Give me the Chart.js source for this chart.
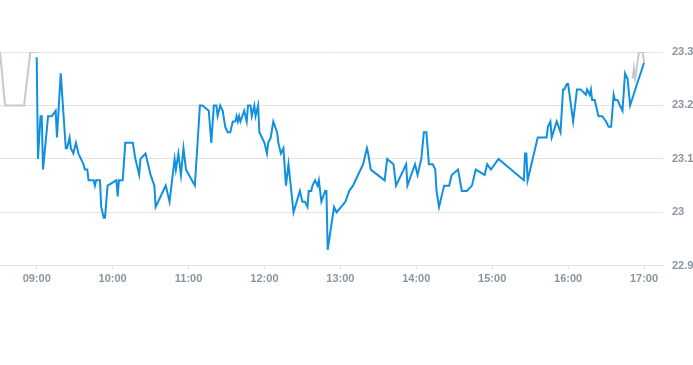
<!DOCTYPE html>
<html>
<head>
<meta charset="utf-8">
<script src="https://cdn.jsdelivr.net/npm/chart.js@4/dist/chart.umd.min.js"></script>
<style>
  body { margin: 0; background: #fff; }
  #wrap { width: 693px; height: 365px; position: relative; }
</style>
</head>
<body>
<div id="wrap"><canvas id="myLineChart"></canvas></div>
<script>
// intraday prices, session 09:00 - 17:00
const sessionTimes = ['09:00','09:01','09:03','09:04','09:05','09:09','09:12','09:15','09:16','09:19',
  '09:23','09:24','09:26','09:27','09:29','09:31','09:33','09:35','09:37','09:38',
  '09:40','09:41','09:45','09:46','09:47','09:50','09:51','09:53','09:54','09:56',
  '10:03','10:04','10:05','10:08','10:10','10:16','10:18','10:21','10:22','10:26',
  '10:30','10:33','10:34','10:42','10:45','10:49','10:50','10:52','10:54','10:56',
  '10:58','11:05','11:09','11:11','11:16','11:18','11:20','11:22','11:23','11:25',
  '11:27','11:29','11:31','11:33','11:35','11:37','11:38','11:39','11:40','11:41',
  '11:44','11:46','11:47','11:49','11:50','11:52','11:53','11:55','11:56','11:58',
  '12:00','12:02','12:03','12:05','12:07','12:10','12:11','12:13','12:15','12:17',
  '12:19','12:23','12:28','12:30','12:32','12:34','12:35','12:37','12:38','12:40',
  '12:42','12:43','12:45','12:48','12:49','12:50','12:55','12:57','13:04','13:07',
  '13:10','13:12','13:18','13:21','13:22','13:24','13:35','13:37','13:42','13:44',
  '13:52','13:53','13:59','14:01','14:04','14:06','14:08','14:10','14:13','14:15',
  '14:16','14:18','14:22','14:26','14:28','14:33','14:36','14:40','14:44','14:47',
  '14:54','14:56','14:59','15:05','15:25','15:26','15:27','15:28','15:36','15:43',
  '15:44','15:46','15:47','15:51','15:54','15:56','15:57','15:59','16:00','16:04',
  '16:07','16:10','16:14','16:15','16:17','16:18','16:19','16:21','16:24','16:27',
  '16:30','16:32','16:34','16:36','16:37','16:39','16:41','16:43','16:45','16:47',
  '16:49','17:00']
const sessionPrices = [23.29,23.10,23.18,23.18,23.08,23.18,23.18,23.19,23.14,23.26,
  23.12,23.12,23.14,23.12,23.11,23.13,23.11,23.10,23.09,23.08,
  23.08,23.06,23.06,23.05,23.06,23.06,23.01,22.99,22.99,23.05,
  23.06,23.03,23.06,23.06,23.13,23.13,23.10,23.07,23.10,23.11,
  23.07,23.05,23.01,23.05,23.02,23.10,23.08,23.11,23.07,23.12,
  23.08,23.05,23.20,23.20,23.19,23.13,23.20,23.20,23.18,23.20,
  23.19,23.16,23.15,23.15,23.17,23.17,23.18,23.17,23.18,23.17,
  23.19,23.17,23.20,23.20,23.18,23.20,23.18,23.20,23.15,23.14,
  23.13,23.11,23.13,23.14,23.17,23.15,23.13,23.11,23.12,23.05,
  23.09,23.00,23.04,23.02,23.02,23.01,23.04,23.04,23.05,23.06,
  23.05,23.06,23.02,23.04,23.04,22.93,23.01,23.00,23.02,23.04,
  23.05,23.06,23.09,23.12,23.11,23.08,23.06,23.10,23.09,23.05,
  23.09,23.05,23.09,23.07,23.10,23.15,23.15,23.09,23.09,23.08,
  23.04,23.01,23.05,23.05,23.07,23.08,23.04,23.04,23.05,23.08,
  23.07,23.09,23.08,23.10,23.06,23.11,23.11,23.06,23.14,23.14,
  23.16,23.17,23.14,23.17,23.15,23.23,23.23,23.24,23.24,23.17,
  23.23,23.23,23.22,23.23,23.22,23.23,23.21,23.21,23.18,23.18,
  23.17,23.16,23.16,23.22,23.21,23.21,23.20,23.19,23.26,23.25,
  23.20,23.28]

// pre-session ticks (grey)
const preTimes = ['08:31','08:35','08:50','08:55','09:00']
const prePrices = [23.30,23.20,23.20,23.30,23.30]
// closing auction ticks (grey)
const postTimes = ['16:51','16:52','16:53','16:56','16:59','17:00']
const postPrices = [23.25,23.27,23.25,23.30,23.30,23.28]

const xTickLabels = ['09:00','10:00','11:00','12:00','13:00','14:00','15:00','16:00','17:00']
const yTickLabels = [22.9, 23, 23.1, 23.2, 23.3]

const toMin = function(t){
    const [h,m] = t.split(':')
    return Number(h)*60 + Number(m)
}
const toLabel = function(v){
    const h = Math.floor(v/60)
    const m = v%60
    return String(h).padStart(2,'0') + ':' + String(m).padStart(2,'0')
}
const points = function(times, prices){
    return times.map((t,i)=>({x: toMin(t), y: prices[i]}))
}

const tickFont = { family: 'Liberation Sans, Arial, sans-serif', size: 11, weight: 'bold' }
const tickColor = '#8b95a1'
const gridColor = '#e4e4e4'
const grey = '#c5cacf'

const lineStyle = { borderWidth: 2, pointRadius: 0, tension: 0 }

const ctxLine = document.getElementById('myLineChart')
const myLineChart = new Chart(ctxLine, {
    type: 'line',
    data: {
        datasets: [
            { data: points(sessionTimes, sessionPrices), borderColor: '#1190e0', ...lineStyle },
            { data: points(preTimes, prePrices), borderColor: grey, ...lineStyle },
            { data: points(postTimes, postPrices), borderColor: grey, ...lineStyle }
        ]
    },
    options: {
        responsive: true,
        maintainAspectRatio: false,
        animation: false,
        layout: { padding: { top: 52, bottom: 76, left: 0, right: 0 } },
        plugins: { legend: { display: false }, tooltip: { enabled: false } },
        scales: {
            x: {
                type: 'linear',
                min: toMin('08:31'),
                max: toMin('17:15'),
                afterBuildTicks: scale => { scale.ticks = xTickLabels.map(t=>({value: toMin(t)})) },
                ticks: {
                    callback: v => toLabel(v),
                    color: tickColor,
                    font: tickFont,
                    padding: 3,
                    maxRotation: 0
                },
                grid: { drawOnChartArea: false, drawTicks: true, tickLength: 4, color: gridColor },
                border: { display: true, color: gridColor }
            },
            y: {
                position: 'right',
                min: 22.9,
                max: 23.3,
                afterBuildTicks: scale => { scale.ticks = yTickLabels.map(v=>({value: v})) },
                afterFit: scale => { scale.width = 30 },
                ticks: {
                    callback: v => String(v),
                    color: tickColor,
                    font: tickFont,
                    padding: 9
                },
                grid: { drawTicks: false, color: gridColor },
                border: { display: false }
            }
        }
    }
})
</script>
</body>
</html>
